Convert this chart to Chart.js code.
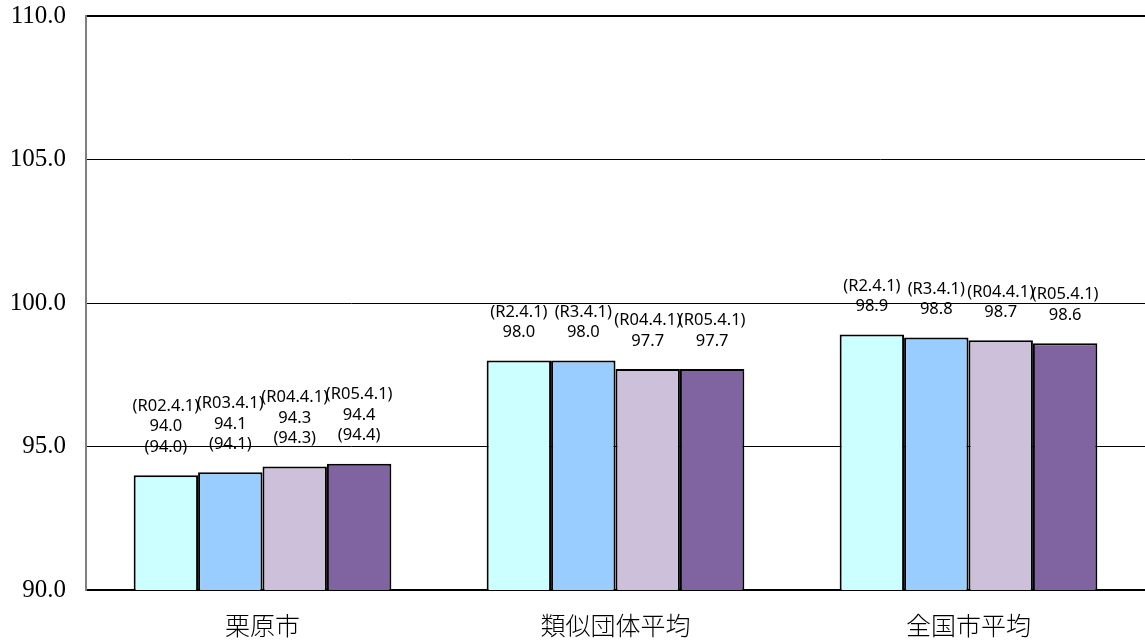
<!DOCTYPE html>
<html>
<head>
<meta charset="utf-8">
<script src="https://cdn.jsdelivr.net/npm/chart.js@4/dist/chart.umd.min.js"></script>
<style>
  html, body { margin: 0; padding: 0; background: #fff; overflow: hidden; }
  #wrap { width: 1145px; height: 660px; margin-top: -19px; }
</style>
</head>
<body>
<div id="wrap"><canvas id="grafico"></canvas></div>
<script>
// categorias e valores
var categorias = ['栗原市', '類似団体平均', '全国市平均'];
var serieR02 = [94.0, 98.0, 98.9];
var serieR03 = [94.1, 98.0, 98.8];
var serieR04 = [94.3, 97.7, 98.7];
var serieR05 = [94.4, 97.7, 98.6];
var valoresAjustados = ['(94.0)', '(94.1)', '(94.3)', '(94.4)']; // só para 栗原市
var rotulosData = [
    ['(R02.4.1)', '(R03.4.1)', '(R04.4.1)', '(R05.4.1)'],
    ['(R2.4.1)', '(R3.4.1)', '(R04.4.1)', '(R05.4.1)'],
    ['(R2.4.1)', '(R3.4.1)', '(R04.4.1)', '(R05.4.1)']
];
var ticksY = [90, 95, 100, 105, 110];

var cores = ['#CCFFFF', '#99CCFF', '#CCC0DA', '#8064A2'];
var series = [serieR02, serieR03, serieR04, serieR05];

// rótulos em cima das barras
var rotulosPlugin = {
    id: 'rotulos',
    afterDatasetsDraw: function (chart) {
        var ctx = chart.ctx;
        ctx.save();
        ctx.fillStyle = '#000';
        ctx.font = '16.5px "Noto Sans", "DejaVu Sans", sans-serif';
        ctx.textAlign = 'center';
        ctx.textBaseline = 'middle';
        chart.data.datasets.forEach(function (ds, i) {
            var meta = chart.getDatasetMeta(i);
            meta.data.forEach(function (bar, j) {
                var linhas = [rotulosData[j][i], ds.data[j].toFixed(1)];
                if (j === 0) linhas.push(valoresAjustados[i]);
                var base = bar.y - 28;
                for (var k = 0; k < linhas.length; k++) {
                    var y = base - (linhas.length - 1 - k) * 20.5;
                    ctx.fillText(linhas[k], bar.x, y);
                }
            });
        });
        ctx.restore();
    }
};

var ctx = document.getElementById('grafico').getContext('2d');
var grafico = new Chart(ctx, {
    type: 'bar',
    data: {
        labels: categorias,
        datasets: series.map(function (d, i) {
            return {
                data: d,
                backgroundColor: cores[i],
                borderColor: '#000',
                borderWidth: 2,
                barPercentage: 1,
                categoryPercentage: 0.73
            };
        })
    },
    options: {
        responsive: true,
        maintainAspectRatio: false,
        animation: false,
        layout: { padding: 0 },
        plugins: {
            legend: { display: false },
            tooltip: { enabled: false }
        },
        scales: {
            x: {
                afterFit: function (s) { s.height = 51; },
                grid: { display: false },
                border: { color: '#000', width: 2 },
                ticks: {
                    color: '#000',
                    padding: 12,
                    font: { family: '"Noto Sans CJK JP", sans-serif', size: 25, weight: 300 }
                }
            },
            y: {
                min: 90,
                max: 110,
                afterBuildTicks: function (s) {
                    s.ticks = ticksY.map(function (v) { return { value: v }; });
                },
                afterFit: function (s) { s.width = 86; },
                border: { color: '#808080', width: 2 },
                grid: {
                    drawTicks: false,
                    color: function (c) {
                        return c.tick && c.tick.value === 90 ? 'rgba(0,0,0,0)' : '#000';
                    },
                    lineWidth: function (c) {
                        return c.tick && c.tick.value === 110 ? 2 : 1;
                    }
                },
                ticks: {
                    color: '#000',
                    padding: 20,
                    font: { family: '"Liberation Serif", "DejaVu Serif", serif', size: 25 },
                    callback: function (v) { return Number(v).toFixed(1); }
                }
            }
        }
    },
    plugins: [rotulosPlugin]
});
</script>
</body>
</html>
